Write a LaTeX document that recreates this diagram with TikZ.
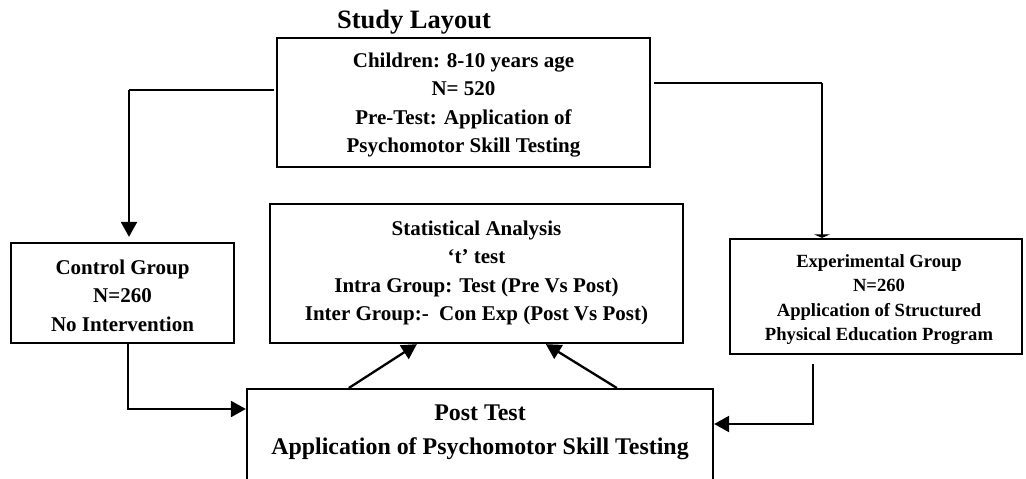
\documentclass[tikz,border=0pt]{standalone}
\usepackage{fontspec}
\setmainfont{Liberation Serif}
\usetikzlibrary{arrows.meta,calc}

\tikzset{
  box/.style={draw, line width=2.3pt, rectangle, inner sep=0pt},
  txt/.style={align=center, font=\fontsize{21}{28.5}\selectfont\bfseries},
  smalltxt/.style={align=center, font=\fontsize{18.6}{24.5}\selectfont\bfseries},
  bigtxt/.style={align=center, font=\fontsize{23.9}{34}\selectfont\bfseries},
  conn/.style={line width=2.3pt},
  arr/.style={conn, -{Triangle[width=16pt,length=15pt]}},
  bararr/.style={conn, -{Triangle[width=16pt,length=3.5pt]}},
}

\begin{document}
\begin{tikzpicture}[x=1pt,y=-1pt]
  \useasboundingbox (0,0) rectangle (1026,479);
  \clip (0,0) rectangle (1026,479);

  % title
  \node[font=\fontsize{26.5}{30}\selectfont\bfseries] (title) at (414,22) {Study Layout};

  % boxes
  \node[box, minimum width=373, minimum height=129] (top) at (463.5,102.5) {};
  \node[txt] (toptext) at (463.5,105)
    {Children: 8-10 years age\\N= 520\\Pre-Test: Application of\\Psychomotor Skill Testing};
  \node[box, minimum width=223, minimum height=100] (ctrl) at (122.5,293) {};
  \node[txt] (ctrltext) at (122.5,295.5)
    {Control Group\\N=260\\No Intervention};
  \node[box, minimum width=413, minimum height=139] (stat) at (476.5,273.5) {};
  \node[txt] (stattext) at (476.5,273)
    {Statistical Analysis\\`t' test\\Intra Group: Test (Pre Vs Post)\\Inter Group:-\ \ Con Exp (Post Vs Post)};
  \node[box, minimum width=292, minimum height=115] (exp) at (876,296.5) {};
  \node[smalltxt] (exptext) at (879,299.5)
    {Experimental Group\\N=260\\Application of Structured\\Physical Education Program};
  \node[box, minimum width=466, minimum height=120, anchor=north] (post) at (480,388) {};
  \node[bigtxt] (posttext) at (480,432)
    {Post Test\\Application of Psychomotor Skill Testing};

  % connector bends
  \coordinate (lk) at (129,90);
  \coordinate (rk) at (822,83);
  \coordinate (c1) at (128,409);
  \coordinate (e1) at (813,424);

  % top box to the two groups
  \draw[conn, shorten <=2pt] (top.west |- lk) -- (lk);
  \draw[arr, shorten >=5pt] (lk) -- (lk |- ctrl.north);
  \draw[conn, shorten <=3pt] (top.east |- rk) -- (rk);
  \draw[bararr] (rk) -- (rk |- exp.north);

  % groups to post test
  \draw[arr] (c1 |- ctrl.south) -- (c1) -- (c1 -| post.west);
  \draw[arr] ($(e1 |- exp.south)+(0,9)$) -- (e1) -- (e1 -| post.east);

  % post test to statistical analysis
  \draw[arr] ($(post.north west)+(103,0)$) -- ($(stat.south west)+(148,0)$);
  \draw[arr] ($(post.north west)+(371,0)$) -- ($(stat.south west)+(277,0)$);
\end{tikzpicture}
\end{document}
